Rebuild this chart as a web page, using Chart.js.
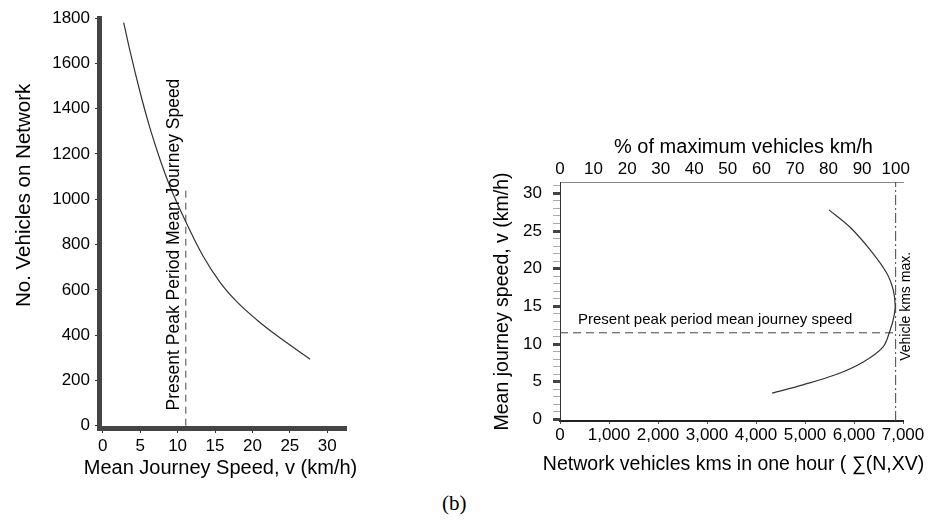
<!DOCTYPE html>
<html>
<head>
<meta charset="utf-8">
<script src="https://cdn.jsdelivr.net/npm/chart.js@4.4.0/dist/chart.umd.min.js"></script>
<style>
  body { margin: 0; background: #fff; width: 930px; height: 523px; position: relative; overflow: hidden; }
  #left { position: absolute; left: 0; top: 0; }
  #right { position: absolute; left: 470px; top: 120px; }
  #caption { position: absolute; left: 442px; top: 491px; font: 21px "Liberation Serif", "Times New Roman", serif; color: #000; }
</style>
</head>
<body>
<canvas id="left" width="370" height="485"></canvas>
<canvas id="right" width="460" height="360"></canvas>
<div id="caption">(b)</div>
<script>
const FONT = '"Liberation Sans", Arial, sans-serif';

// left panel: vehicles on network against mean journey speed
const leftSpeed = [2.8, 3.6, 5.0, 6.3, 7.6, 9.0, 11.0, 13.4, 15.7, 17.9, 20.6, 23.3, 27.7];
const leftVehicles = [1780, 1660, 1471, 1315, 1181, 1055, 907, 749, 632, 548, 467, 397, 294];
const leftXTicks = [0, 5, 10, 15, 20, 25, 30];
const leftYTicks = [0, 200, 400, 600, 800, 1000, 1200, 1400, 1600, 1800];
const presentSpeedLeft = 11.1;
const presentLineTop = 1050;

// right panel: speed against network vehicle kms
const rightVehKm = [5490, 5920, 6330, 6670, 6800, 6840, 6810, 6740, 6590, 6180, 5650, 4960, 4330];
const rightSpeed = [27.8, 25.5, 22.5, 19.4, 17.2, 15.2, 13.5, 11.9, 9.6, 7.6, 6.0, 4.6, 3.5];
const rightXTicks = [0, 1000, 2000, 3000, 4000, 5000, 6000, 7000];
const percentTicks = [0, 10, 20, 30, 40, 50, 60, 70, 80, 90, 100];
const rightYTicks = Array.from({length: 32}, (_, i) => i); // minor ticks every 1 km/h
const presentSpeedRight = 11.5;
const vehKmMax = 6850;

// draws free text; "at" gives the anchor from the chart's scales
const textLabels = {
  id: 'textLabels',
  afterDatasetsDraw(chart, args, opts) {
    const ctx = chart.ctx;
    (opts.items || []).forEach(item => {
      const p = item.at(chart);
      ctx.save();
      ctx.translate(p.x, p.y);
      ctx.rotate(item.rotate || 0);
      ctx.font = item.font;
      ctx.fillStyle = '#000';
      ctx.textAlign = item.align || 'center';
      ctx.textBaseline = item.baseline || 'middle';
      ctx.fillText(item.text, 0, 0);
      ctx.restore();
    });
  }
};

const tickFont = {family: FONT, size: 17};
const midX = c => (c.chartArea.left + c.chartArea.right) / 2;

new Chart(document.getElementById('left'), {
  type: 'scatter',
  data: {
    datasets: [
      {
        data: leftSpeed.map((v, i) => ({x: v, y: leftVehicles[i]})),
        showLine: true, borderColor: '#333', borderWidth: 1.2, pointRadius: 0,
        cubicInterpolationMode: 'monotone'
      },
      {
        data: [{x: presentSpeedLeft, y: 0}, {x: presentSpeedLeft, y: presentLineTop}],
        showLine: true, borderColor: '#444', borderWidth: 1, borderDash: [7, 5], pointRadius: 0
      }
    ]
  },
  options: {
    responsive: false,
    animation: false,
    layout: {padding: {top: 18, right: 24, left: 0, bottom: 0}},
    plugins: {
      legend: {display: false},
      tooltip: {enabled: false},
      textLabels: {
        items: [
          {text: 'Present Peak Period Mean Journey Speed', rotate: -Math.PI / 2, font: '17.5px ' + FONT,
           at: c => ({x: c.scales.x.getPixelForValue(presentSpeedLeft) - 12, y: c.scales.y.getPixelForValue(800)})},
          {text: 'No. Vehicles on Network', rotate: -Math.PI / 2, font: '20.5px ' + FONT,
           at: c => ({x: c.scales.y.left + 24, y: c.scales.y.getPixelForValue(1017)})},
          {text: 'Mean Journey Speed, v (km/h)', font: '20px ' + FONT,
           at: c => ({x: midX(c) - 2, y: c.scales.x.bottom - 17})}
        ]
      }
    },
    scales: {
      x: {
        type: 'linear', min: -0.5, max: 32.5,
        afterBuildTicks: s => { s.ticks = leftXTicks.map(v => ({value: v})); },
        afterFit: s => { s.height = 57; },
        ticks: {autoSkip: false, maxRotation: 0, padding: 3, color: '#000', font: tickFont},
        grid: {drawOnChartArea: false, tickLength: 5, color: '#333'},
        border: {color: '#444', width: 5, dash: [1, 1]}
      },
      y: {
        type: 'linear', min: -10, max: 1800,
        afterBuildTicks: s => { s.ticks = leftYTicks.map(v => ({value: v})); },
        afterFit: s => { s.width = 99; },
        ticks: {autoSkip: false, padding: 5, color: '#000', font: tickFont, callback: v => String(v)},
        grid: {drawOnChartArea: false, tickLength: 4, color: '#333'},
        border: {color: '#444', width: 5, dash: [1, 1]}
      }
    }
  },
  plugins: [textLabels]
});

new Chart(document.getElementById('right'), {
  type: 'scatter',
  data: {
    datasets: [
      {
        data: rightVehKm.map((v, i) => ({x: v, y: rightSpeed[i]})),
        showLine: true, borderColor: '#333', borderWidth: 1.2, pointRadius: 0, tension: 0.35
      },
      {
        data: [{x: 0, y: presentSpeedRight}, {x: vehKmMax, y: presentSpeedRight}],
        showLine: true, borderColor: '#444', borderWidth: 1, borderDash: [8, 5], pointRadius: 0
      },
      {
        data: [{x: vehKmMax, y: -0.2}, {x: vehKmMax, y: 31.5}],
        showLine: true, borderColor: '#444', borderWidth: 1, borderDash: [10, 3, 2, 3], pointRadius: 0
      }
    ]
  },
  options: {
    responsive: false,
    animation: false,
    layout: {padding: {top: 0, right: 27, left: 0, bottom: 0}},
    plugins: {
      legend: {display: false},
      tooltip: {enabled: false},
      textLabels: {
        items: [
          {text: 'Present peak period mean journey speed', align: 'left', baseline: 'alphabetic', font: '15px ' + FONT,
           at: c => ({x: c.scales.x.getPixelForValue(0) + 18, y: c.scales.y.getPixelForValue(presentSpeedRight) - 9})},
          {text: 'Vehicle kms max.', rotate: -Math.PI / 2, font: '14px ' + FONT,
           at: c => ({x: c.scales.x.getPixelForValue(vehKmMax) + 10, y: c.scales.y.getPixelForValue(15)})},
          {text: 'Network vehicles kms in one hour ( \u2211(N,XV)', font: '19.5px ' + FONT,
           at: c => ({x: midX(c) + 2, y: c.scales.x.bottom - 15})},
          {text: '% of maximum vehicles km/h', font: '20px ' + FONT,
           at: c => ({x: midX(c) + 12, y: c.scales.x2.top + 27})}
        ]
      }
    },
    scales: {
      x: {
        type: 'linear', position: 'bottom', min: 0, max: 7000,
        afterBuildTicks: s => { s.ticks = rightXTicks.map(v => ({value: v})); },
        afterFit: s => { s.height = 59; },
        ticks: {autoSkip: false, maxRotation: 0, padding: 1, color: '#000', font: tickFont},
        grid: {drawOnChartArea: false, tickLength: 3, color: '#555'},
        border: {color: '#222', width: 2}
      },
      x2: {
        type: 'linear', position: 'top', min: 0, max: 7000 / vehKmMax * 100,
        afterBuildTicks: s => { s.ticks = percentTicks.map(v => ({value: v})); },
        afterFit: s => { s.height = 62; },
        ticks: {autoSkip: false, maxRotation: 0, padding: 2, color: '#000', font: tickFont},
        grid: {drawOnChartArea: false, drawTicks: false},
        border: {color: '#888', width: 1}
      },
      y: {
        type: 'linear', min: -0.2, max: 31.5,
        afterBuildTicks: s => { s.ticks = rightYTicks.map(v => ({value: v})); },
        afterFit: s => { s.width = 90; },
        ticks: {
          autoSkip: false, padding: 11, color: '#000', font: tickFont,
          callback: v => (v % 5 === 0 ? v : '')
        },
        grid: {
          drawOnChartArea: false, tickLength: 7,
          tickWidth: c => (c.tick && c.tick.value % 5 === 0 ? 3 : 1),
          tickColor: c => (c.tick && c.tick.value % 5 === 0 ? '#444' : '#aaa')
        },
        border: {color: '#333', width: 1},
        title: {display: true, text: 'Mean journey speed, v (km/h)', color: '#000',
                font: {family: FONT, size: 19.5}, padding: {top: 21, bottom: 0}}
      }
    }
  },
  plugins: [textLabels]
});
</script>
</body>
</html>
